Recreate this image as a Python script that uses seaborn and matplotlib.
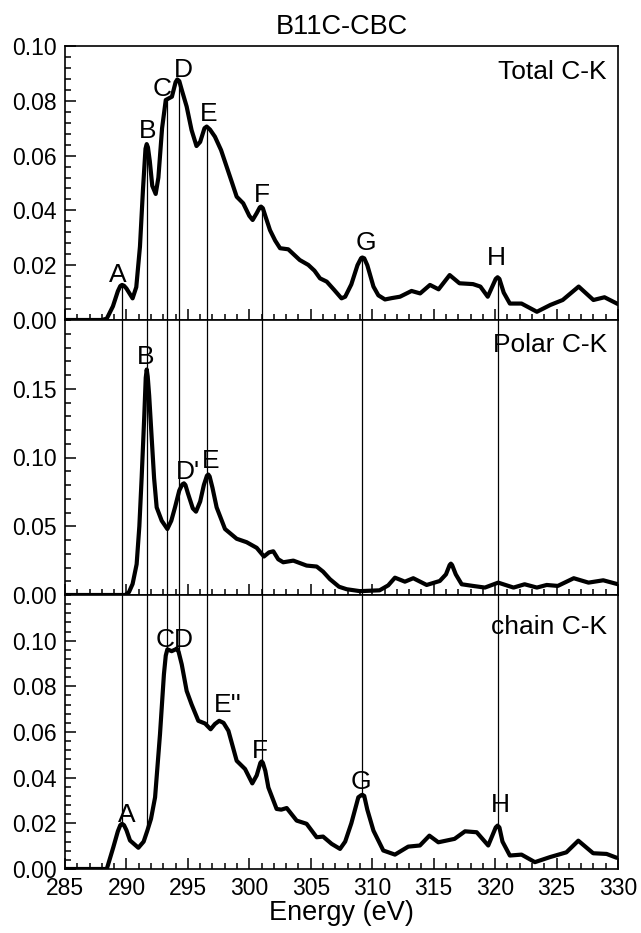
import numpy as np
import pandas as pd
import matplotlib
matplotlib.use("Agg")
import matplotlib.pyplot as plt
from matplotlib.ticker import MultipleLocator
import seaborn as sns

# ---------------- data ----------------
energy_total = [285.0, 288.0, 288.4, 288.9, 289.3, 289.5, 289.64, 289.8, 290.0, 290.5, 290.8, 291.1, 291.35,
                291.55, 291.65, 291.75, 291.9, 292.1, 292.38, 292.6, 292.9, 293.2, 293.7, 294.0, 294.14,
                294.3, 294.5, 294.9, 295.3, 295.7, 296.0, 296.35, 296.53, 296.8, 297.2, 297.7, 298.15,
                298.6, 298.97, 299.5, 300.0, 300.27, 300.6, 300.85, 300.95, 301.1, 301.3, 301.68, 302.1,
                302.5, 303.17, 303.6, 304.1, 304.8, 305.3, 305.75, 306.3, 306.9, 307.5, 307.8, 308.3,
                308.8, 309.1, 309.2, 309.35, 309.6, 310.1, 310.5, 311.04, 311.6, 312.26, 313.2, 313.9,
                314.7, 315.4, 316.3, 317.1, 318.2, 318.8, 319.4, 320.05, 320.2, 320.35, 320.7, 321.2,
                322.15, 323.4, 324.5, 325.5, 326.8, 328.0, 328.9, 330.0]
total_ck = [0.0, 0.0, 0.0005, 0.005, 0.0105, 0.0124, 0.0128, 0.0125, 0.0115, 0.0079, 0.0120, 0.0268, 0.048,
            0.0625, 0.0642, 0.0630, 0.058, 0.049, 0.046, 0.052, 0.070, 0.0803, 0.0815, 0.0868, 0.0878,
            0.0872, 0.084, 0.0779, 0.0693, 0.0635, 0.0650, 0.0700, 0.0706, 0.0695, 0.0669, 0.062, 0.056,
            0.050, 0.045, 0.0426, 0.038, 0.0365, 0.039, 0.0411, 0.0414, 0.0408, 0.038, 0.0328, 0.029,
            0.0262, 0.0258, 0.024, 0.0219, 0.0201, 0.018, 0.0152, 0.014, 0.011, 0.0079, 0.0085, 0.013,
            0.020, 0.0226, 0.0228, 0.0225, 0.020, 0.0122, 0.0090, 0.0075, 0.0080, 0.0085, 0.0106, 0.0097,
            0.0128, 0.0112, 0.0164, 0.0134, 0.0131, 0.0122, 0.0085, 0.0150, 0.0156, 0.0150, 0.010, 0.006,
            0.006, 0.003, 0.0055, 0.0073, 0.0122, 0.0073, 0.0083, 0.0058]

energy_polar = [285.0, 289.9, 290.2, 290.5, 290.83, 291.05, 291.24, 291.45, 291.57, 291.65, 291.73, 291.85,
                292.05, 292.25, 292.46, 292.87, 293.33, 293.65, 293.95, 294.3, 294.55, 294.68, 294.8, 295.0,
                295.4, 295.66, 296.0, 296.3, 296.55, 296.66, 296.77, 297.0, 297.34, 298.02, 298.97, 299.78,
                300.6, 301.19, 301.6, 301.95, 302.35, 302.76, 303.58, 304.66, 305.48, 306.0, 306.56, 307.3,
                307.92, 309.0, 310.6, 311.3, 311.85, 312.66, 313.34, 314.43, 315.5, 316.0, 316.3, 316.4,
                316.5, 316.8, 317.28, 318.2, 319.17, 320.25, 321.5, 322.4, 323.4, 324.2, 325.1, 326.4,
                327.6, 328.8, 330.0]
polar_ck = [0.0, 0.0, 0.002, 0.008, 0.0224, 0.05, 0.0858, 0.13, 0.158, 0.164, 0.159, 0.145,
            0.1148, 0.085, 0.0637, 0.054, 0.048, 0.054, 0.0637, 0.076, 0.0805, 0.0812, 0.080, 0.074,
            0.063, 0.0606, 0.068, 0.080, 0.0868, 0.0876, 0.0862, 0.078, 0.0637, 0.048, 0.0409, 0.0384,
            0.0343, 0.028, 0.031, 0.0318, 0.026, 0.0238, 0.025, 0.0214, 0.0207, 0.017, 0.0115, 0.006,
            0.0042, 0.0028, 0.0034, 0.007, 0.0126, 0.0097, 0.0122, 0.0073, 0.0102, 0.015, 0.0218, 0.0228,
            0.0218, 0.015, 0.0078, 0.0066, 0.0054, 0.009, 0.0054, 0.0078, 0.0054, 0.0073, 0.0066, 0.0122,
            0.009, 0.0107, 0.0078]

energy_chain = [285.0, 288.4, 288.93, 289.3, 289.5, 289.64, 289.8, 290.0, 290.29, 290.97, 291.4, 291.7, 292.0,
                292.33, 292.73, 293.05, 293.2, 293.33, 293.68, 294.0, 294.1, 294.25, 294.5, 294.9, 295.3,
                295.85, 296.4, 296.85, 297.2, 297.55, 297.9, 298.3, 298.97, 299.65, 300.24, 300.6, 300.9,
                301.0, 301.1, 301.3, 301.55, 302.22, 302.6, 303.04, 303.85, 304.66, 305.48, 306.0, 306.7,
                307.38, 307.8, 308.3, 308.87, 309.1, 309.2, 309.35, 309.6, 310.1, 310.9, 311.85, 312.93,
                313.88, 314.65, 315.38, 316.7, 317.55, 318.5, 319.44, 320.05, 320.2, 320.35, 320.6, 321.2,
                322.15, 323.24, 324.46, 325.8, 326.77, 327.98, 329.07, 329.9]
chain_ck = [0.0, 0.0, 0.0095, 0.0165, 0.0192, 0.0198, 0.0192, 0.017, 0.0125, 0.0093, 0.012, 0.0168, 0.022,
            0.0314, 0.059, 0.0853, 0.0935, 0.0962, 0.0954, 0.0962, 0.0966, 0.0950, 0.0896, 0.078, 0.0721,
            0.0649, 0.0637, 0.0612, 0.0635, 0.0649, 0.064, 0.0605, 0.0474, 0.0438, 0.0375, 0.041, 0.0465,
            0.0471, 0.0465, 0.043, 0.0357, 0.0263, 0.026, 0.0267, 0.0212, 0.0198, 0.0139, 0.0142, 0.011,
            0.0088, 0.012, 0.020, 0.0314, 0.0323, 0.0325, 0.0320, 0.026, 0.0168, 0.0081, 0.0063, 0.0098,
            0.0103, 0.0146, 0.0117, 0.0132, 0.0165, 0.0161, 0.0103, 0.0182, 0.019, 0.0182, 0.012, 0.0059,
            0.0063, 0.003, 0.0052, 0.0073, 0.0124, 0.0069, 0.0066, 0.0049]

marker_energies = [289.64, 291.65, 293.3, 294.25, 296.55, 301.0, 309.2, 320.2]

panel_names = ["Total C-K", "Polar C-K", "chain C-K"]

top_labels = ["A", "B", "C", "D", "E", "F", "G", "H"]
top_label_x = marker_energies
polar_labels = ["B", "D'", "E"]
polar_label_x = [291.65, 294.68, 296.55]
chain_labels = ["A", "CD", "E''", "F", "G", "H"]
chain_label_x = [289.64, 293.78, 297.55, 301.0, 309.2, 320.2]

xticks = [285, 290, 295, 300, 305, 310, 315, 320, 325, 330]
yticks_total = [0.00, 0.02, 0.04, 0.06, 0.08, 0.10]
yticks_polar = [0.00, 0.05, 0.10, 0.15]
yticks_chain = [0.00, 0.02, 0.04, 0.06, 0.08, 0.10]

# ---------------- style ----------------
sns.set_style("ticks")
plt.rcParams["font.family"] = ["Liberation Sans", "DejaVu Sans"]
plt.rcParams["axes.linewidth"] = 1.2
plt.rcParams["text.color"] = "black"
plt.rcParams["axes.labelcolor"] = "black"
plt.rcParams["xtick.color"] = "black"
plt.rcParams["ytick.color"] = "black"

TICK_FS = 16.5
LAB_FS = 19
PX = 0.72  # points per pixel at dpi 100

fig = plt.figure(figsize=(6.41, 9.33), dpi=100)
L, R = 65 / 641, 618 / 641
tops = [46, 320, 595]
bots = [320, 595, 869]
axes = []
for t, b in zip(tops, bots):
    ax = fig.add_axes([L, 1 - b / 933, R - L, (b - t) / 933])
    axes.append(ax)
ax1, ax2, ax3 = axes

df_total = pd.DataFrame({"Energy": energy_total, "I": total_ck})
df_polar = pd.DataFrame({"Energy": energy_polar, "I": polar_ck})
df_chain = pd.DataFrame({"Energy": energy_chain, "I": chain_ck})

ylims = [(0, 0.10), (0, 0.20), (0, 0.12)]
yticks_list = [yticks_total, yticks_polar, yticks_chain]
yminor = [0.004, 0.01, 0.004]
dfs = [df_total, df_polar, df_chain]

for ax, df, yl, yt, ym in zip(axes, dfs, ylims, yticks_list, yminor):
    # vertical marker lines
    for e in marker_energies:
        v = np.interp(e, df["Energy"], df["I"])
        if ax is ax1:
            ax.plot([e, e], [0, v], color="black", lw=0.9, zorder=1)
        elif ax is ax2:
            ax.axvline(e, color="black", lw=0.9, zorder=1)
        else:
            ax.plot([e, e], [v, yl[1]], color="black", lw=0.9, zorder=1)
    sns.lineplot(data=df, x="Energy", y="I", ax=ax, color="black", lw=3.0, zorder=3,
                 estimator=None, sort=False, solid_joinstyle="round", solid_capstyle="round")
    ax.set_xlim(285, 330)
    ax.set_ylim(*yl)
    ax.set_xticks(xticks)
    ax.xaxis.set_minor_locator(MultipleLocator(1))
    ax.set_yticks(yt)
    ax.yaxis.set_minor_locator(MultipleLocator(ym))
    ax.set_yticklabels([f"{v:.2f}" for v in yt], fontsize=TICK_FS)
    ax.tick_params(axis="both", which="both", direction="in", top=False, right=False,
                   width=1.1, colors="black")
    ax.tick_params(axis="both", which="major", length=8, pad=6)
    ax.tick_params(axis="both", which="minor", length=4)
    ax.set_ylabel("")
    ax.set_xlabel("")
    for s in ax.spines.values():
        s.set_visible(True)
        s.set_color("black")
        s.set_linewidth(1.2)

for ax in (ax1, ax2):
    ax.tick_params(axis="x", labelbottom=False)
ax3.set_xticklabels([str(v) for v in xticks], fontsize=TICK_FS)
ax3.set_xlabel("Energy (eV)", fontsize=19.5, labelpad=0)

ax1.set_title("B11C-CBC", fontsize=19.5, pad=9)

# panel names
ax1.text(0.980, 0.906, panel_names[0], transform=ax1.transAxes, ha="right", va="center", fontsize=LAB_FS)
ax2.text(0.980, 0.909, panel_names[1], transform=ax2.transAxes, ha="right", va="center", fontsize=LAB_FS)
ax3.text(0.980, 0.884, panel_names[2], transform=ax3.transAxes, ha="right", va="center", fontsize=LAB_FS)

# peak labels (offsets in pixels: dx, dy above curve to baseline)
top_off = [(-4, 3), (1, 6), (-5, 3), (5, 4), (2, 6), (0, 5), (4, 8), (-1, 12)]
polar_off = [(-1, 5), (4, 4), (4, 8)]
chain_off = [(5, 2), (2, 4), (9, 9), (-2, 3), (-1, 6), (3, 14)]

for ax, df, labs, xs, offs in [(ax1, df_total, top_labels, top_label_x, top_off),
                               (ax2, df_polar, polar_labels, polar_label_x, polar_off),
                               (ax3, df_chain, chain_labels, chain_label_x, chain_off)]:
    for lab, x, (dx, dy) in zip(labs, xs, offs):
        v = np.interp(x, df["Energy"], df["I"])
        ax.annotate(lab, xy=(x, v), xytext=(dx * PX, dy * PX), textcoords="offset points",
                    ha="center", va="baseline", fontsize=LAB_FS, zorder=4)

fig.savefig("out.png", dpi=100)
